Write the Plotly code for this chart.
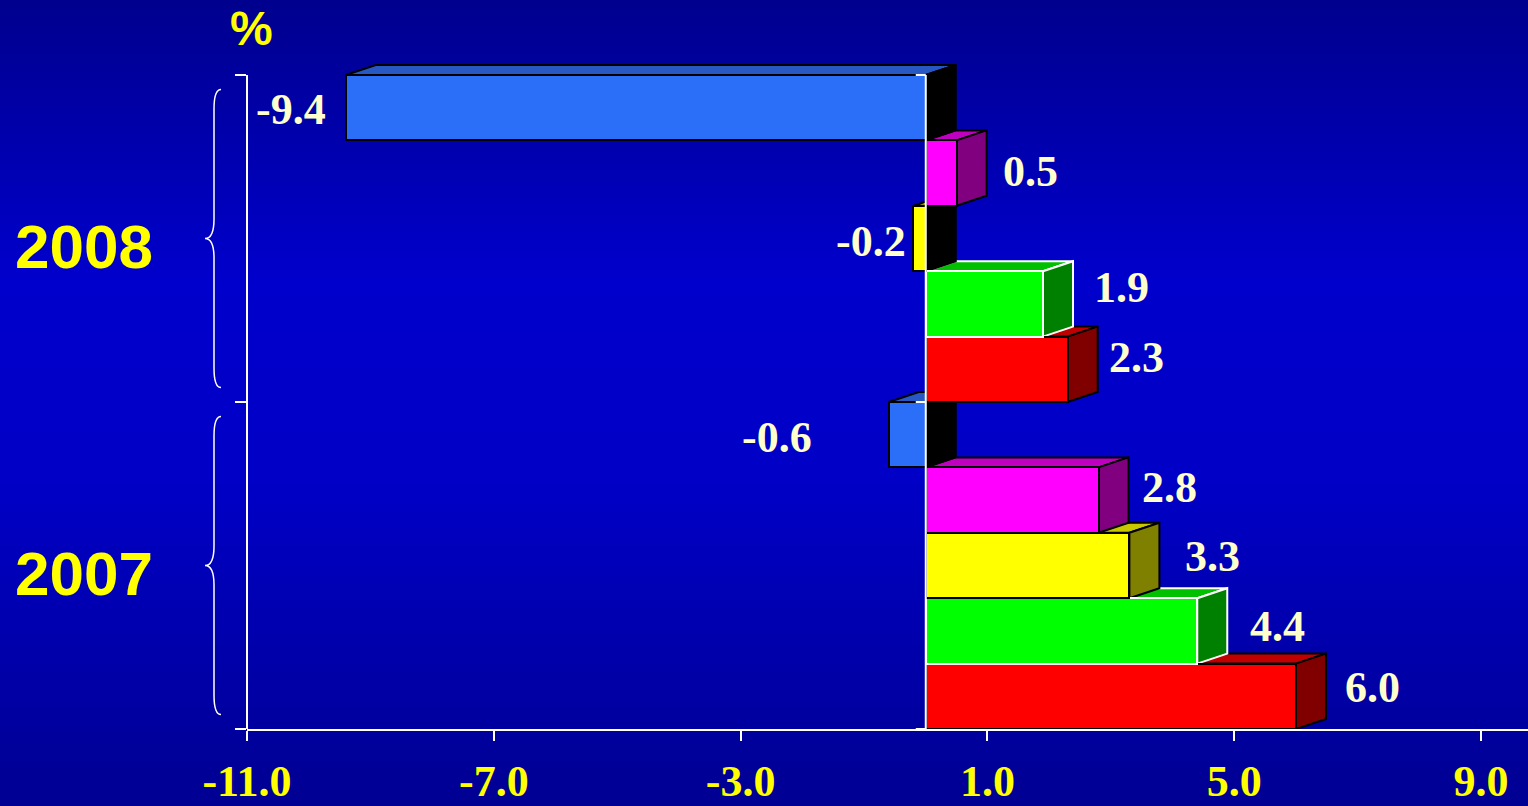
import plotly.graph_objects as go

# ---------------- data ----------------
YEARS = ["2008", "2007"]
VALUES_2008 = [-9.4, 0.5, -0.2, 1.9, 2.3]   # top to bottom within the year
VALUES_2007 = [-0.6, 2.8, 3.3, 4.4, 6.0]
VALUE_LABELS_2008 = ["-9.4", "0.5", "-0.2", "1.9", "2.3"]
VALUE_LABELS_2007 = ["-0.6", "2.8", "3.3", "4.4", "6.0"]
X_TICKS = [-11, -7, -3, 1, 5, 9]
X_TICK_LABELS = ["-11.0", "-7.0", "-3.0", "1.0", "5.0", "9.0"]
UNIT_LABEL = "%"

# ---------------- style ----------------
FRONT = ["#2B6FF8", "#FF00FF", "#FFFF00", "#00FF00", "#FF0000"]
TOP = ["#2858C4", "#C000C0", "#C8C800", "#00C000", "#C00000"]
SIDE = ["#000000", "#800080", "#808000", "#008000", "#800000"]
EDGE = ["#000000", "#000000", "#000000", "#FFFFFF", "#000000"]
# label fine-tuning in pixels (gap from bar end, lift)
GAP_2008 = [18, 14, 5, 19, 9]
GAP_2007 = [75, 11, 24, 21, 17]
LIFT_2008 = [-2, 2, -3, 16, 12]
LIFT_2007 = [-3, 13, 9, 4, 9]

W, H = 1528, 806
ML, MR, MT, MB = 247, 0, 64, 77
PW, PH = W - ML - MR, H - MT - MB
X_RANGE = [-11, 9.76]
Y_UNIT_PX = 65.4
Y_RANGE = [-0.5, -0.5 + PH / Y_UNIT_PX]
PX_X = PW / (X_RANGE[1] - X_RANGE[0])
DX = 30 / PX_X
DY = 10 / Y_UNIT_PX

# build bar list bottom-to-top
n = len(VALUES_2008)
values_by_year = [VALUES_2008, VALUES_2007]
labels_by_year = [VALUE_LABELS_2008, VALUE_LABELS_2007]
gaps_by_year = [GAP_2008, GAP_2007]
lifts_by_year = [LIFT_2008, LIFT_2007]

bars = []
for yi in range(len(YEARS)):
    for si in range(n):
        pos = (len(YEARS) - 1 - yi) * n + (n - 1 - si)
        bars.append(dict(v=values_by_year[yi][si], pos=pos, s=si,
                         lab=labels_by_year[yi][si],
                         gap=gaps_by_year[yi][si], lift=lifts_by_year[yi][si]))
bars.sort(key=lambda b: b["pos"])

fig = go.Figure()
fig.add_trace(go.Bar(
    orientation="h",
    x=[b["v"] for b in bars],
    y=[b["pos"] for b in bars],
    width=1,
    marker=dict(color=[FRONT[b["s"]] for b in bars],
                line=dict(color=[EDGE[b["s"]] for b in bars], width=2)),
    hoverinfo="skip",
    showlegend=False,
))

shapes = []
# background gradient
stops = [(0.0, 0x8E), (0.35, 0xCC), (0.6, 0xC6), (1.0, 0x92)]
def blue_at(t):
    for (a, ca), (b, cb) in zip(stops[:-1], stops[1:]):
        if a <= t <= b:
            f = (t - a) / (b - a)
            return int(round(ca + (cb - ca) * f))
    return stops[-1][1]
N = 90
px0, px1 = -ML / PW, 1 + MR / PW
for k in range(N):
    t0 = k / N
    t1 = (k + 1) / N
    ytop = 1 + MT / PH - t0 * H / PH
    ybot = 1 + MT / PH - t1 * H / PH - 0.002
    shapes.append(dict(type="rect", xref="paper", yref="paper", layer="below",
                       x0=px0, x1=px1, y0=ybot, y1=ytop, line=dict(width=0),
                       fillcolor="rgb(0,0,%d)" % blue_at((t0 + t1) / 2)))

# 3D faces (drawn bottom to top)
for b in bars:
    v, p, s = b["v"], b["pos"], b["s"]
    lo, hi = p - 0.5, p + 0.5
    x_lo, x_hi = min(v, 0), max(v, 0)
    top = "M {a},{y} L {b},{y2} L {c},{y2} L {d},{y} Z".format(
        a=x_lo, b=x_lo + DX, c=x_hi + DX, d=x_hi, y=hi, y2=hi + DY)
    side = "M {x},{lo} L {x2},{lo2} L {x2},{hi2} L {x},{hi} Z".format(
        x=x_hi, x2=x_hi + DX, lo=lo, lo2=lo + DY, hi=hi, hi2=hi + DY)
    shapes.append(dict(type="path", xref="x", yref="y", layer="below", path=top,
                       fillcolor=TOP[s], line=dict(color=EDGE[s], width=2)))
    shapes.append(dict(type="path", xref="x", yref="y", layer="below", path=side,
                       fillcolor=SIDE[s] if v > 0 else "#000000",
                       line=dict(color=EDGE[s], width=2)))

# zero line with ticks
total = len(YEARS) * n
shapes.append(dict(type="line", xref="x", yref="y", layer="above", x0=0, x1=0,
                   y0=-0.5, y1=total - 0.5, line=dict(color="white", width=2)))
for g in range(len(YEARS) + 1):
    yy = g * n - 0.5
    shapes.append(dict(type="line", xref="x", yref="y", layer="above",
                       x0=-10 / PX_X, x1=0, y0=yy, y1=yy,
                       line=dict(color="white", width=2)))
# left axis line
shapes.append(dict(type="line", xref="paper", yref="y", layer="above", x0=0, x1=0,
                   y0=-0.5, y1=total - 0.5, line=dict(color="white", width=2)))

# braces
xr, xm, xt = -26 / PW, -33 / PW, -42 / PW
a = 0.3
for yi in range(len(YEARS)):
    g = len(YEARS) - 1 - yi
    yb = g * n - 0.5 + 0.22
    yt = (g + 1) * n - 0.5 - 0.22
    ym = (yb + yt) / 2
    path = (f"M {xr},{yt} Q {xm},{yt} {xm},{yt - a} L {xm},{ym + a} "
            f"Q {xm},{ym} {xt},{ym} Q {xm},{ym} {xm},{ym - a} "
            f"L {xm},{yb + a} Q {xm},{yb} {xr},{yb}")
    shapes.append(dict(type="path", xref="paper", yref="y", layer="above",
                       path=path, line=dict(color="white", width=1.5)))

annotations = []
lab_font = dict(family="Liberation Serif, Times New Roman, serif", size=44,
                color="#FFFFCC", weight="bold")
for b in bars:
    v = b["v"]
    if v >= 0:
        annotations.append(dict(x=v + DX, y=b["pos"], xref="x", yref="y",
                                text=b["lab"], showarrow=False, xanchor="left",
                                yanchor="middle", xshift=b["gap"], yshift=b["lift"],
                                font=lab_font))
    else:
        annotations.append(dict(x=v, y=b["pos"], xref="x", yref="y",
                                text=b["lab"], showarrow=False, xanchor="right",
                                yanchor="middle", xshift=-b["gap"], yshift=b["lift"],
                                font=lab_font))
for yi, yr in enumerate(YEARS):
    g = len(YEARS) - 1 - yi
    annotations.append(dict(x=0, y=g * n + (n - 1) / 2, xref="paper", yref="y",
                            text=yr, showarrow=False, xanchor="center",
                            yanchor="middle", xshift=-163, yshift=-8,
                            font=dict(family="Liberation Sans, Arial, sans-serif",
                                      size=62, color="#FFFF00", weight="bold")))
annotations.append(dict(x=0, y=1, xref="paper", yref="paper", text=UNIT_LABEL,
                        showarrow=False, xanchor="center", yanchor="middle",
                        xshift=4, yshift=MT - 28,
                        font=dict(family="Liberation Sans, Arial, sans-serif",
                                  size=48, color="#FFFF00", weight="bold")))

fig.update_layout(
    width=W, height=H,
    margin=dict(l=ML, r=MR, t=MT, b=MB, pad=0, autoexpand=False),
    paper_bgcolor="#0000B0",
    plot_bgcolor="rgba(0,0,0,0)",
    shapes=shapes,
    annotations=annotations,
    bargap=0,
    xaxis=dict(range=X_RANGE, tickvals=X_TICKS, ticktext=X_TICK_LABELS,
               automargin=False,
               showgrid=False, zeroline=False, showline=True, linecolor="white",
               linewidth=2, ticks="outside", ticklen=10, tickwidth=2,
               tickcolor="white", ticklabelstandoff=2,
               tickfont=dict(family="Liberation Serif, Times New Roman, serif",
                             size=44, color="#FFFF00", weight="bold")),
    yaxis=dict(range=Y_RANGE, tickvals=[g * n - 0.5 for g in range(len(YEARS) + 1)],
               automargin=False,
               showticklabels=False, showgrid=False, zeroline=False, showline=False,
               ticks="outside", ticklen=11, tickwidth=2, tickcolor="white"),
)

fig.write_html("out.html", config={"displayModeBar": False},
               post_script="document.body.style.margin='0';document.body.style.overflow='hidden';")
